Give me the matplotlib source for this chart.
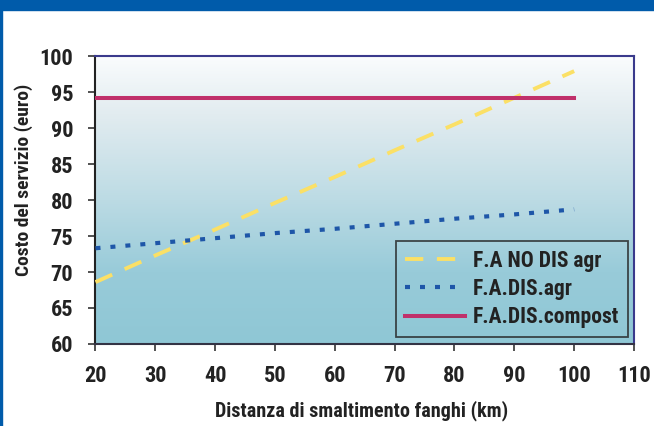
import numpy as np
import matplotlib
matplotlib.use("Agg")
import matplotlib.pyplot as plt
from matplotlib.colors import LinearSegmentedColormap
from matplotlib.patches import Rectangle

plt.rcParams["font.family"] = ["Roboto Condensed", "DejaVu Sans"]
plt.rcParams["font.weight"] = "bold"
plt.rcParams["axes.labelweight"] = "bold"

# dati
distanza = [20, 30, 40, 50, 60, 70, 80, 90, 100]
fa_no_dis_agr = [68.6, 72.3, 75.9, 79.6, 83.2, 86.9, 90.5, 94.2, 97.9]
fa_dis_agr = [73.3, 74.0, 74.7, 75.4, 76.0, 76.7, 77.4, 78.0, 78.7]
fa_dis_compost = [94.2, 94.2, 94.2, 94.2, 94.2, 94.2, 94.2, 94.2, 94.2]

xticks = [20, 30, 40, 50, 60, 70, 80, 90, 100, 110]
yticks = [60, 65, 70, 75, 80, 85, 90, 95, 100]

fig = plt.figure(figsize=(6.54, 4.26), dpi=100)
fig.patch.set_facecolor("white")
# cornice blu
fig.patches.append(Rectangle((0, 1 - 10 / 426), 1, 10 / 426, transform=fig.transFigure,
                             color="#005baa", zorder=0))
fig.patches.append(Rectangle((0, 0), 2 / 654, 1, transform=fig.transFigure,
                             color="#005baa", zorder=0))

ax = fig.add_axes([0.146, 0.1925, 0.8234, 0.676])

# sfondo sfumato
cmap = LinearSegmentedColormap.from_list("sfondo", [
    (0.0, "#fafcfd"), (0.2, "#e2ecf0"), (0.5, "#bcdbe4"),
    (0.75, "#98cbd9"), (1.0, "#8fc7d5")])
grad = np.linspace(0, 1, 256).reshape(-1, 1)
ax.imshow(grad, aspect="auto", cmap=cmap, extent=[20, 110, 60, 100],
          origin="upper", zorder=0)

ax.plot(distanza, fa_no_dis_agr, color="#fbe066", lw=2.8, dashes=(4.7, 3.5),
        dash_capstyle="butt", label="F.A NO DIS agr", zorder=3)
ax.plot(distanza, fa_dis_agr, color="#1e56a8", lw=3.0, dashes=(1.2, 2.4),
        dash_capstyle="butt", label="F.A.DIS.agr", zorder=3)
ax.plot(distanza, fa_dis_compost, color="#c0306a", lw=2.9,
        label="F.A.DIS.compost", zorder=3)

ax.set_xlim(20, 110)
ax.set_ylim(60, 100)
ax.set_xticks(xticks)
ax.set_yticks(yticks)
ax.tick_params(axis="x", labelsize=16, length=5, width=1.2, color="#333333", pad=10)
ax.tick_params(axis="y", labelsize=16, length=5, width=1.2, color="#333333", pad=11)
for lab in ax.get_xticklabels() + ax.get_yticklabels():
    lab.set_color("#222222")

ax.spines["left"].set_color("#222222")
ax.spines["bottom"].set_color("#333344")
ax.spines["top"].set_color("#3a3a8c")
ax.spines["right"].set_color("#3a3a8c")
for s in ax.spines.values():
    s.set_linewidth(1.5)

ax.set_xlabel("Distanza di smaltimento fanghi (km)", fontsize=14.5, color="#222222")
ax.set_ylabel("Costo del servizio (euro)", fontsize=14, color="#222222")
ax.xaxis.set_label_coords(0.495, -0.195)
ax.yaxis.set_label_coords(-0.116, 0.57)

leg = ax.legend(loc="lower right", bbox_to_anchor=(0.988, 0.024), fontsize=15.5,
                frameon=True, fancybox=False, handlelength=2.8, handletextpad=0.35,
                borderpad=0.4, borderaxespad=0, labelspacing=0.3)
leg.get_frame().set_facecolor("none")
leg.get_frame().set_edgecolor("#222222")
leg.get_frame().set_linewidth(1.3)
for t in leg.get_texts():
    t.set_color("#222222")

fig.savefig("out.png", dpi=100)
